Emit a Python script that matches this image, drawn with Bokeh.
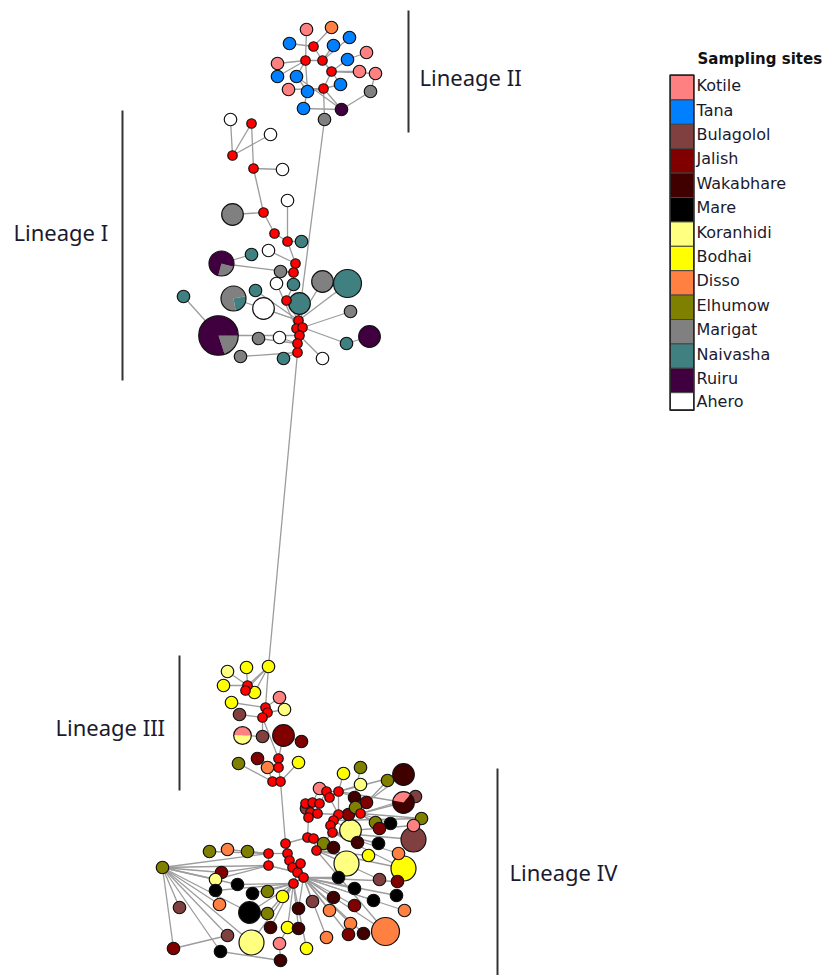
import math
from bokeh.plotting import figure
from bokeh.models import Range1d
from bokeh.embed import file_html
from bokeh.resources import INLINE
from bokeh.core.properties import value

W, H = 823, 975

# Sampling sites and their legend colours
sites = ["Kotile", "Tana", "Bulagolol", "Jalish", "Wakabhare", "Mare", "Koranhidi",
         "Bodhai", "Disso", "Elhumow", "Marigat", "Naivasha", "Ruiru", "Ahero"]
site_colors = ["#FF8080", "#0080FF", "#804040", "#800000", "#400000", "#000000", "#FFFF80",
               "#FFFF00", "#FF8040", "#808000", "#808080", "#408080", "#400040", "#FFFFFF"]
MV = "mv"          # median vector (inferred, unsampled haplotype)
MV_COLOR = "#FF0000"

# Haplotypes: (id, site, number of sequences); "mix" nodes are split in pie_parts
lineage_II = [
    ("II1", "Kotile", 1), ("II2", "Disso", 1), ("II3", "Tana", 1), ("II4", "Tana", 1),
    ("II5", MV, 0), ("II6", "Tana", 1), ("II7", "Kotile", 1), ("II8", MV, 0),
    ("II9", MV, 0), ("II10", "Tana", 1), ("II11", "Kotile", 1), ("II12", MV, 0),
    ("II13", "Kotile", 1), ("II14", "Kotile", 1), ("II15", "Tana", 1), ("II16", "Tana", 1),
    ("II17", "Tana", 1), ("II18", MV, 0), ("II19", "Kotile", 1), ("II20", "Tana", 1),
    ("II21", "Marigat", 1), ("II22", "Tana", 1), ("II23", "Ruiru", 1), ("II24", "Marigat", 1),
]
lineage_I = [
    ("I1", "Ahero", 1), ("I2", MV, 0), ("I3", "Ahero", 1), ("I4", MV, 0), ("I5", MV, 0),
    ("I6", "Ahero", 1), ("I7", "Ahero", 1), ("I8", "Marigat", 3), ("I9", MV, 0),
    ("I10", MV, 0), ("I11", MV, 0), ("I12", "Naivasha", 1), ("I13", "mix", 4),
    ("I14", "Naivasha", 1), ("I15", "Ahero", 1), ("I16", MV, 0), ("I17", MV, 0),
    ("I18", "Marigat", 1), ("I19", "Ahero", 1), ("I20", "Naivasha", 1), ("I21", "Marigat", 3),
    ("I22", "Naivasha", 5), ("I23", "Naivasha", 1), ("I24", "mix", 4), ("I25", "Naivasha", 1),
    ("I26", MV, 0), ("I27", "Ahero", 3), ("I28", "Naivasha", 3), ("I29", "Marigat", 1),
    ("I30", MV, 0), ("I31", MV, 0), ("I32", MV, 0), ("I33", MV, 0), ("I34", MV, 0),
    ("I35", MV, 0), ("I36", "mix", 10), ("I37", "Marigat", 1), ("I38", "Ahero", 1),
    ("I39", "Naivasha", 1), ("I40", "Ruiru", 3), ("I41", "Marigat", 1), ("I42", "Naivasha", 1),
    ("I43", "Ahero", 1),
]
lineage_III = [
    ("III1", "Koranhidi", 1), ("III2", "Bodhai", 1), ("III3", "Bodhai", 1), ("III4", "Bodhai", 1),
    ("III5", MV, 0), ("III6", MV, 0), ("III7", "Bodhai", 1), ("III8", "Bodhai", 1),
    ("III9", "Kotile", 1), ("III10", MV, 0), ("III11", MV, 0), ("III12", "Koranhidi", 1),
    ("III13", MV, 0), ("III14", "Bulagolol", 1), ("III15", "mix", 2), ("III16", "Bulagolol", 1),
    ("III17", "Jalish", 3), ("III18", "Jalish", 1), ("III19", "Elhumow", 1), ("III20", "Jalish", 1),
    ("III21", MV, 0), ("III22", MV, 0), ("III23", "Disso", 1), ("III24", "Bodhai", 1),
    ("III25", MV, 0), ("III26", MV, 0),
]
lineage_IV = [
    ("A1", MV, 0), ("A2", "Elhumow", 1), ("A3", "Disso", 1), ("A4", "Elhumow", 1),
    ("A5", MV, 0), ("A6", MV, 0), ("A7", MV, 0), ("A8", MV, 0), ("A9", MV, 0), ("A10", MV, 0),
    ("A11", "Elhumow", 1), ("A12", "Jalish", 1), ("A13", "Koranhidi", 1), ("A14", "Mare", 1),
    ("A15", MV, 0), ("A16", "Mare", 1), ("A17", "Mare", 1), ("A18", "Elhumow", 1),
    ("A19", "Bodhai", 1), ("A20", "Bulagolol", 1), ("A21", "Disso", 1), ("A22", "Mare", 3),
    ("A23", "Elhumow", 1), ("A24", "Wakabhare", 1), ("A25", "Bodhai", 1), ("A26", "Bulagolol", 1),
    ("A27", "Koranhidi", 4), ("A28", "Kotile", 1), ("A29", "Jalish", 1), ("A30", "Mare", 1),
    ("A31", "Wakabhare", 1),
    ("B2", "Bodhai", 1), ("B3", "Elhumow", 1), ("B4", "Wakabhare", 3), ("B5", "Elhumow", 1),
    ("B6", "Koranhidi", 1), ("B7", "Kotile", 1), ("B8", MV, 0), ("B9", MV, 0), ("B10", MV, 0),
    ("B11", "Wakabhare", 1), ("B12", "Jalish", 1), ("B13", "mix", 3), ("B14", "Bulagolol", 1),
    ("B15", MV, 0), ("B16", MV, 0), ("B17", MV, 0), ("B18", "Bulagolol", 1), ("B19", MV, 0),
    ("B20", MV, 0), ("B21", MV, 0), ("B22", MV, 0), ("B23", "Jalish", 1), ("B24", MV, 0),
    ("B25", MV, 0), ("B26", MV, 0), ("B27", "Elhumow", 1), ("B28", "Elhumow", 1),
    ("B29", "Mare", 1), ("B30", "Jalish", 1), ("B31", "Koranhidi", 3), ("B32", "Kotile", 1),
    ("B33", MV, 0), ("B34", "Bulagolol", 4), ("B35", MV, 0), ("B36", MV, 0), ("B37", MV, 0),
    ("B38", "Elhumow", 1), ("B39", "Wakabhare", 1), ("B40", "Wakabhare", 1), ("B41", "Mare", 1),
    ("B42", "Bodhai", 1), ("B43", "Disso", 1), ("B44", "Koranhidi", 4), ("B45", "Bodhai", 4),
    ("B47", MV, 0), ("B49", MV, 0), ("B50", "Mare", 1), ("B51", "Bulagolol", 1),
    ("B52", "Jalish", 1), ("B53", "Mare", 1), ("B54", "Wakabhare", 1), ("B55", "Bulagolol", 1),
    ("B56", "Wakabhare", 1), ("B57", "Mare", 1), ("B58", "Mare", 1), ("B59", "Jalish", 1),
    ("B60", "Disso", 1), ("B61", "Disso", 1), ("B62", "Wakabhare", 1), ("B63", "Disso", 1),
    ("B64", "Disso", 5), ("B65", "Jalish", 1), ("B66", "Wakabhare", 1), ("B67", "Disso", 1),
    ("B68", "Bodhai", 1), ("B69", "Elhumow", 1),
]

# Composition of haplotypes shared between sites
pie_parts = {
    "I13": [("Marigat", 1), ("Ruiru", 3)],
    "I24": [("Naivasha", 1), ("Marigat", 3)],
    "I36": [("Marigat", 2), ("Ruiru", 8)],
    "III15": [("Kotile", 1), ("Koranhidi", 1)],
    "B13": [("Kotile", 1), ("Wakabhare", 2)],
}

# Mutational links between haplotypes
links = [
    # Lineage II
    ("II1", "II8"), ("II2", "II5"), ("II4", "II5"), ("II5", "II9"), ("II3", "II9"),
    ("II6", "II9"), ("II8", "II9"), ("II8", "II11"), ("II8", "II15"), ("II8", "II16"),
    ("II9", "II12"), ("II10", "II12"), ("II7", "II10"), ("II12", "II13"), ("II12", "II14"),
    ("II12", "II18"), ("II12", "II17"), ("II17", "II18"), ("II18", "II19"), ("II18", "II20"),
    ("II18", "II24"), ("II20", "II22"), ("II22", "II23"), ("II18", "II23"), ("II23", "II21"),
    ("II21", "II14"), ("II23", "II16"), ("II16", "II20"), ("II8", "II20"),
    # Lineage II to lineage I
    ("II24", "I30"),
    # Lineage I
    ("I1", "I4"), ("I2", "I4"), ("I4", "I3"), ("I2", "I5"), ("I5", "I6"), ("I5", "I9"),
    ("I9", "I8"), ("I9", "I10"), ("I10", "I11"), ("I11", "I7"), ("I11", "I12"), ("I11", "I16"),
    ("I16", "I17"), ("I17", "I18"), ("I13", "I17"), ("I13", "I14"), ("I15", "I16"),
    ("I20", "I17"), ("I20", "I26"), ("I19", "I31"), ("I26", "I30"), ("I28", "I30"),
    ("I21", "I30"), ("I22", "I30"), ("I24", "I30"), ("I25", "I30"), ("I27", "I30"),
    ("I29", "I32"), ("I30", "I31"), ("I31", "I33"), ("I32", "I33"), ("I33", "I34"),
    ("I34", "I35"), ("I23", "I36"), ("I36", "I33"), ("I37", "I34"), ("I38", "I34"),
    ("I39", "I32"), ("I40", "I39"), ("I41", "I35"), ("I42", "I35"), ("I43", "I33"),
    # Lineage I to lineage III
    ("I35", "III3"),
    # Lineage III
    ("III3", "III5"), ("III3", "III6"), ("III3", "III7"), ("III3", "III10"), ("III2", "III5"),
    ("III1", "III5"), ("III4", "III5"), ("III5", "III6"), ("III8", "III10"), ("III9", "III10"),
    ("III10", "III11"), ("III11", "III12"), ("III11", "III13"), ("III13", "III14"),
    ("III13", "III16"), ("III13", "III21"), ("III15", "III16"), ("III17", "III21"),
    ("III17", "III18"), ("III21", "III22"), ("III20", "III22"), ("III19", "III25"),
    ("III23", "III25"), ("III22", "III26"), ("III24", "III26"), ("III25", "III26"),
    # Lineage III to lineage IV
    ("III26", "A1"),
    # Lineage IV
    ("A1", "A6"), ("A6", "A7"), ("A7", "A9"), ("A9", "A10"), ("A10", "A15"), ("A5", "A6"),
    ("A5", "A8"), ("A8", "A10"), ("A2", "A5"), ("A3", "A5"), ("A4", "A5"), ("A11", "A5"),
    ("A11", "A8"), ("A11", "A12"), ("A11", "A13"), ("A11", "A14"), ("A11", "A20"),
    ("A11", "A29"), ("A11", "A30"), ("A11", "A26"), ("A11", "A22"), ("A11", "A27"),
    ("A11", "A21"), ("A12", "A8"), ("A13", "A8"), ("A14", "A15"), ("A16", "A15"),
    ("A17", "A15"), ("A18", "A15"), ("A19", "A15"), ("A22", "A15"), ("A23", "A15"),
    ("A24", "A15"), ("A25", "A15"), ("A27", "A15"), ("A28", "A25"), ("A30", "A31"),
    ("A31", "A28"), ("A29", "A26"), ("A21", "A16"),
    ("A1", "B35"), ("B35", "B36"), ("B35", "B21"), ("B21", "B19"), ("B19", "B15"),
    ("B15", "B16"), ("B16", "B17"), ("B17", "B8"), ("B8", "B10"), ("B8", "B9"), ("B9", "B22"),
    ("B10", "B22"), ("B22", "B25"), ("B25", "B26"), ("B26", "B33"), ("B33", "B37"),
    ("B37", "B36"), ("B19", "B20"), ("B20", "B22"), ("B22", "B24"), ("A9", "B47"),
    ("B47", "B49"), ("B49", "A15"), ("A10", "B47"), ("B18", "B15"),
    ("B2", "B9"), ("B3", "B11"), ("B4", "B12"), ("B5", "B12"), ("B6", "B9"), ("B7", "B16"),
    ("B11", "B9"), ("B12", "B24"), ("B13", "B24"), ("B14", "B24"), ("B23", "B22"),
    ("B69", "B22"), ("B27", "B24"), ("B28", "B24"), ("B29", "B24"), ("B30", "B24"),
    ("B31", "B25"), ("B32", "B31"), ("B34", "B33"), ("B38", "B36"), ("B39", "B37"),
    ("B40", "B33"), ("B41", "B33"), ("B42", "B37"), ("B43", "B33"), ("B44", "B37"),
    ("B45", "B37"), ("B50", "B49"), ("B51", "B37"), ("B52", "B49"), ("B53", "B49"),
    ("B54", "B49"), ("B55", "B49"), ("B56", "B49"), ("B57", "B49"), ("B58", "B49"),
    ("B59", "B49"), ("B60", "B49"), ("B61", "B49"), ("B62", "A15"), ("B63", "B49"),
    ("B64", "B49"), ("B65", "B49"), ("B66", "B49"), ("B67", "B49"), ("B68", "A15"),
    ("B4", "B9"), ("B13", "B9"), ("B27", "B25"), ("B45", "B33"), ("B64", "B37"),
]

# Network layout (page pixel coordinates, y measured downward)
layout = {
    "II1": (306, 29), "II2": (331, 27), "II3": (349, 37), "II4": (289, 43), "II5": (313, 46),
    "II6": (333, 45), "II7": (366, 52), "II8": (305, 60), "II9": (322, 60), "II10": (347, 59),
    "II11": (277, 63), "II12": (331, 71), "II13": (359, 71), "II14": (375, 73), "II15": (277, 76),
    "II16": (296, 76), "II17": (340, 84), "II18": (323, 88), "II19": (288, 89), "II20": (307, 91),
    "II21": (370, 91), "II22": (303, 108), "II23": (341, 109), "II24": (324, 119),
    "I1": (230, 119), "I2": (251, 123), "I3": (270, 134), "I4": (232, 155), "I5": (253, 168),
    "I6": (282, 169), "I7": (287, 200), "I8": (232, 214), "I9": (263, 212), "I10": (274, 233),
    "I11": (287, 241), "I12": (301, 241), "I13": (221, 263), "I14": (251, 254), "I15": (268, 250),
    "I16": (295, 263), "I17": (293, 272), "I18": (280, 271), "I19": (276, 283), "I20": (293, 284),
    "I21": (322, 281), "I22": (347, 283), "I23": (183, 296), "I24": (233, 298), "I25": (255, 290),
    "I26": (286, 300), "I27": (263, 308), "I28": (299, 303), "I29": (350, 311), "I30": (298, 320),
    "I31": (296, 328), "I32": (302, 327), "I33": (299, 335), "I34": (297, 343), "I35": (297, 352),
    "I36": (218, 335), "I37": (258, 338), "I38": (279, 337), "I39": (346, 343), "I40": (369, 336),
    "I41": (240, 356), "I42": (283, 358), "I43": (322, 358),
    "III1": (227, 671), "III2": (246, 667), "III3": (268, 666), "III4": (223, 685),
    "III5": (247, 685), "III6": (245, 690), "III7": (254, 692), "III8": (231, 702),
    "III9": (279, 697), "III10": (265, 707), "III11": (267, 712), "III12": (284, 709),
    "III13": (262, 717), "III14": (239, 714), "III15": (242, 735), "III16": (262, 736),
    "III17": (283, 735), "III18": (301, 741), "III19": (238, 763), "III20": (257, 758),
    "III21": (278, 758), "III22": (278, 767), "III23": (267, 767), "III24": (298, 762),
    "III25": (272, 781), "III26": (280, 781),
    "A1": (285, 843), "A2": (209, 851), "A3": (227, 849), "A4": (247, 851), "A5": (268, 853),
    "A6": (287, 853), "A7": (289, 860), "A8": (268, 865), "A9": (292, 867), "A10": (297, 872),
    "A11": (162, 867), "A12": (221, 872), "A13": (215, 879), "A14": (237, 884), "A15": (293, 883),
    "A16": (215, 890), "A17": (252, 893), "A18": (267, 891), "A19": (282, 896), "A20": (179, 907),
    "A21": (219, 904), "A22": (249, 912), "A23": (267, 913), "A24": (270, 927), "A25": (287, 927),
    "A26": (227, 935), "A27": (251, 942), "A28": (279, 943), "A29": (173, 948), "A30": (220, 951),
    "A31": (280, 960),
    "B2": (343, 773), "B3": (360, 767), "B4": (403, 774), "B5": (387, 780), "B6": (360, 784),
    "B7": (319, 788), "B8": (326, 791), "B9": (338, 791), "B10": (329, 797), "B11": (354, 797),
    "B12": (366, 802), "B13": (403, 802), "B14": (415, 796), "B15": (305, 803), "B16": (312, 802),
    "B17": (319, 803), "B18": (306, 808), "B19": (310, 812), "B20": (317, 813), "B21": (308, 817),
    "B22": (338, 814), "B23": (348, 814), "B24": (360, 813), "B25": (333, 820), "B26": (330, 825),
    "B27": (421, 818), "B28": (375, 822), "B29": (390, 823), "B30": (379, 828), "B31": (350, 830),
    "B32": (413, 825), "B33": (332, 832), "B34": (413, 839), "B35": (307, 837), "B36": (313, 838),
    "B37": (316, 850), "B38": (323, 843), "B39": (333, 847), "B40": (357, 842), "B41": (378, 843),
    "B42": (368, 855), "B43": (398, 853), "B44": (346, 863), "B45": (403, 868), "B47": (300, 863),
    "B49": (303, 877), "B50": (338, 877), "B51": (379, 879), "B52": (397, 881), "B53": (354, 888),
    "B54": (298, 908), "B55": (312, 901), "B56": (333, 897), "B57": (396, 895), "B58": (373, 900),
    "B59": (354, 905), "B60": (329, 910), "B61": (404, 910), "B62": (298, 928), "B63": (350, 923),
    "B64": (385, 931), "B65": (348, 934), "B66": (363, 933), "B67": (326, 937), "B68": (306, 948),
    "B69": (355, 807),
}

# Angle (degrees, counter-clockwise) where the first slice of each pie starts
pie_start = {"I13": -105, "I24": -80, "I36": -72, "III15": 0, "B13": 50}

# Lineage brackets: label, label position, bar x, bar top, bar bottom
lineage_labels = ["Lineage II", "Lineage I", "Lineage III", "Lineage IV"]
label_pos = [(419, 76), (13, 231), (55, 726), (509, 871)]
bracket = [(408, 10, 132), (122, 110, 380), (179, 655, 790), (497, 768, 975)]

color_of = dict(zip(sites, site_colors))


def py(y):
    return H - y


def diameter(count):
    return 9.5 if count == 0 else 12.5 * math.sqrt(count)


p = figure(width=W, height=H, x_range=Range1d(0, W), y_range=Range1d(0, H),
           output_backend="svg", toolbar_location=None, min_border=0)
p.axis.visible = False
p.grid.visible = False
p.outline_line_color = None
p.background_fill_color = "white"

# links
x0, y0, x1, y1 = [], [], [], []
for a, b in links:
    xa, ya = layout[a]
    xb, yb = layout[b]
    x0.append(xa); y0.append(py(ya)); x1.append(xb); y1.append(py(yb))
p.segment(x0=x0, y0=y0, x1=x1, y1=y1, line_color="#9C9C9C", line_width=1.3)

# nodes
all_nodes = lineage_II + lineage_I + lineage_III + lineage_IV
counts = {n: c for n, _, c in all_nodes}
nx, ny, ns, nc = [], [], [], []
wx, wy, wr, wa0, wa1, wc = [], [], [], [], [], []
for nid, site, count in all_nodes:
    x, y = layout[nid]
    if site == "mix":
        parts = pie_parts[nid]
        total = sum(c for _, c in parts)
        ang = math.radians(pie_start[nid])
        for s, c in parts:
            span = 2 * math.pi * c / total
            wx.append(x); wy.append(py(y)); wr.append(diameter(count) / 2)
            wa0.append(ang); wa1.append(ang + span); wc.append(color_of[s])
            ang += span
        continue
    nx.append(x); ny.append(py(y)); ns.append(diameter(count))
    nc.append(MV_COLOR if site == MV else color_of[site])

# draw larger nodes first so small ones stay visible
order = sorted(range(len(nx)), key=lambda i: -ns[i])
p.scatter(x=[nx[i] for i in order], y=[ny[i] for i in order], size=[ns[i] for i in order],
          marker="circle", fill_color=[nc[i] for i in order], line_color="#111111",
          line_width=1.2)
p.wedge(x=wx, y=wy, radius=wr, start_angle=wa0, end_angle=wa1, fill_color=wc,
        line_color=None)
pie_ids = list(pie_parts)
p.circle(x=[layout[k][0] for k in pie_ids], y=[py(layout[k][1]) for k in pie_ids],
         radius=[diameter(counts[k]) / 2 for k in pie_ids],
         fill_color=None, line_color="#111111", line_width=1.2)

# lineage brackets and labels
for (bx, bt, bb) in bracket:
    p.segment(x0=[bx], y0=[py(bt)], x1=[bx], y1=[py(bb)], line_color="#333333", line_width=2)
p.text(x=[q[0] for q in label_pos], y=[py(q[1]) for q in label_pos], text=lineage_labels,
       text_font=value("Noto Sans"), text_font_size="22px", text_color="#1a1a2e",
       text_baseline="middle", text_align="left")

# legend
row_h = 24.4
tops = [75 + i * row_h for i in range(len(sites))]
bottoms = [t + row_h for t in tops]
bottoms[-1] = tops[-1] + 17
p.quad(left=670, right=693, top=[py(t) for t in tops], bottom=[py(b) for b in bottoms],
       fill_color=site_colors, line_color="#444444", line_width=1)
p.quad(left=[669.5], right=[693.5], top=[py(74.5)], bottom=[py(bottoms[-1] + 0.5)],
       fill_color=None, line_color="#222222", line_width=1.5)
text_y = [(t + b) / 2 - 2 for t, b in zip(tops, bottoms)]
text_y[-1] += 2
p.text(x=[696] * len(sites), y=[py(v) for v in text_y], text=sites,
       text_font=value("DejaVu Sans"), text_font_size="16px", text_color="#1a1a2e",
       text_baseline="middle", text_align="left")
p.text(x=[697], y=[py(58)], text=["Sampling sites"], text_font=value("DejaVu Sans"),
       text_font_size="15px", text_font_style="bold", text_color="#111111",
       text_baseline="middle", text_align="left")

open("out.html", "w").write(file_html(p, INLINE))
